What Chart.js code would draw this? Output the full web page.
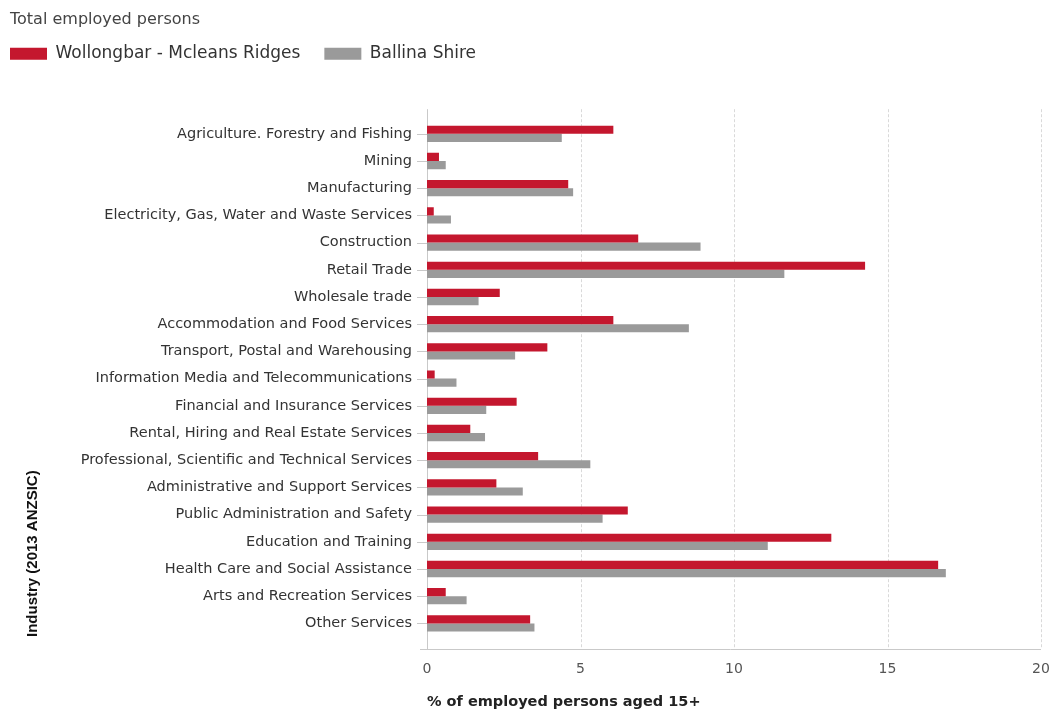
<!DOCTYPE html>
<html>
<head>
<meta charset="utf-8">
<script src="https://cdn.jsdelivr.net/npm/chart.js@4"></script>
<style>
  html, body { margin: 0; padding: 0; background: #fff; overflow: hidden; }
  #wrap { width: 1051px; height: 713px; }
  canvas { display: block; }
</style>
</head>
<body>
<div id="wrap"><canvas id="industryChart"></canvas></div>
<script>
const categories = [
  'Agriculture. Forestry and Fishing',
  'Mining',
  'Manufacturing',
  'Electricity, Gas, Water and Waste Services',
  'Construction',
  'Retail Trade',
  'Wholesale trade',
  'Accommodation and Food Services',
  'Transport, Postal and Warehousing',
  'Information Media and Telecommunications',
  'Financial and Insurance Services',
  'Rental, Hiring and Real Estate Services',
  'Professional, Scientific and Technical Services',
  'Administrative and Support Services',
  'Public Administration and Safety',
  'Education and Training',
  'Health Care and Social Assistance',
  'Arts and Recreation Services',
  'Other Services'
];
const wollongbar = [6.07, 0.39, 4.6, 0.22, 6.88, 14.27, 2.37, 6.07, 3.92, 0.25, 2.92, 1.41, 3.62, 2.26, 6.54, 13.17, 16.65, 0.61, 3.36];
const ballina = [4.39, 0.61, 4.76, 0.78, 8.91, 11.64, 1.68, 8.53, 2.87, 0.96, 1.93, 1.89, 5.32, 3.12, 5.72, 11.1, 16.9, 1.29, 3.5];
const xMin = 0;
const xMax = 20;
const xStep = 5;

const RED = '#c4172e';
const GREY = '#9a9a9a';
const LEGEND_PAD = 24;

// grid + axis lines run a bit past the plot area, like the original
const axisLines = {
  id: 'axisLines',
  beforeDatasetsDraw(chart) {
    const { ctx, chartArea, scales: { x, y } } = chart;
    const top = chartArea.top - 11;
    const bottom = chartArea.bottom + 12;
    ctx.save();
    ctx.lineWidth = 1;
    ctx.strokeStyle = '#d9d9d9';
    ctx.setLineDash([3, 2]);
    x.ticks.forEach(t => {
      if (t.value <= xMin) return;
      const px = Math.round(x.getPixelForValue(t.value)) + 0.5;
      ctx.beginPath();
      ctx.moveTo(px, top);
      ctx.lineTo(px, bottom);
      ctx.stroke();
    });
    ctx.setLineDash([]);
    ctx.strokeStyle = '#c9c9c9';
    const x0 = Math.round(x.getPixelForValue(xMin)) + 0.5;
    ctx.beginPath();
    ctx.moveTo(x0, top);
    ctx.lineTo(x0, bottom);
    ctx.stroke();
    const yb = Math.round(bottom) + 0.5;
    ctx.beginPath();
    ctx.moveTo(chartArea.left - 7, yb);
    ctx.lineTo(chartArea.right, yb);
    ctx.stroke();
    y.ticks.forEach((t, i) => {
      const py = Math.round(y.getPixelForTick(i)) + 0.5;
      ctx.beginPath();
      ctx.moveTo(chartArea.left - 10, py);
      ctx.lineTo(chartArea.left, py);
      ctx.stroke();
    });
    ctx.restore();
  }
};

// extra room under the legend, and legend flush with the title
let legendTop = null;
const legendGap = {
  id: 'legendGap',
  beforeInit(chart) {
    const fit = chart.legend.fit;
    chart.legend.fit = function () {
      fit.bind(chart.legend)();
      this.height += 38;
    };
  },
  afterLayout(chart) {
    legendTop = chart.legend.top;
  },
  beforeDraw(chart) {
    chart.legend.left = 10 - LEGEND_PAD;
    chart.legend.top = legendTop - 10;
  }
};

new Chart(document.getElementById('industryChart'), {
  type: 'bar',
  data: {
    labels: categories,
    datasets: [
      { label: 'Wollongbar - Mcleans Ridges', data: wollongbar, backgroundColor: RED },
      { label: 'Ballina Shire', data: ballina, backgroundColor: GREY }
    ]
  },
  options: {
    indexAxis: 'y',
    responsive: true,
    maintainAspectRatio: false,
    animation: false,
    layout: { padding: { left: 10, right: 0, top: 0, bottom: 0 } },
    datasets: { bar: { barPercentage: 1, categoryPercentage: 0.6 } },
    plugins: {
      title: {
        display: true,
        text: 'Total employed persons',
        align: 'start',
        color: '#444',
        font: { family: 'DejaVu Sans', size: 16, weight: 'normal' },
        padding: { top: 10, bottom: 2 }
      },
      legend: {
        display: true,
        align: 'start',
        labels: {
          boxWidth: 37,
          boxHeight: 12,
          color: '#333',
          padding: LEGEND_PAD,
          font: { family: 'DejaVu Sans', size: 17 }
        }
      },
      tooltip: { enabled: false }
    },
    scales: {
      x: {
        type: 'linear',
        min: xMin,
        max: xMax,
        ticks: { stepSize: xStep, color: '#555', padding: 16, font: { family: 'DejaVu Sans', size: 14 } },
        grid: { display: false },
        border: { display: false },
        title: {
          display: true,
          text: '% of employed persons aged 15+',
          align: 'start',
          color: '#222',
          font: { family: 'DejaVu Sans', size: 14.5, weight: 'bold' },
          padding: { top: 0, bottom: 2 }
        },
        afterFit: (scale) => {
          scale.height = 76;
          scale.paddingLeft = 0;
          scale.paddingRight = 10;
        }
      },
      y: {
        type: 'category',
        offset: true,
        ticks: { color: '#333', padding: 7, autoSkip: false, font: { family: 'DejaVu Sans', size: 14.5 } },
        grid: { display: false },
        border: { display: false },
        title: {
          display: true,
          text: 'Industry (2013 ANZSIC)',
          align: 'start',
          color: '#111',
          font: { family: 'Liberation Sans', size: 15, weight: 'bold' },
          padding: { top: 14, bottom: 0 }
        },
        afterFit: (scale) => { scale.width = 417; }
      }
    }
  },
  plugins: [axisLines, legendGap]
});
</script>
</body>
</html>
